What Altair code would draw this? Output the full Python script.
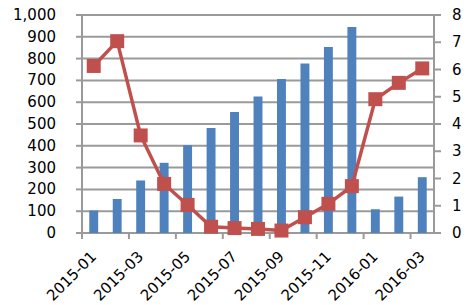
import altair as alt
import pandas as pd

months = ["2015-01", "2015-02", "2015-03", "2015-04", "2015-05", "2015-06", "2015-07",
          "2015-08", "2015-09", "2015-10", "2015-11", "2015-12", "2016-01", "2016-02", "2016-03"]
bar_values = [103, 156, 241, 322, 402, 482, 555, 626, 706, 778, 853, 945, 109, 167, 256]
line_values = [6.13, 7.04, 3.58, 1.80, 1.03, 0.23, 0.18, 0.15, 0.09, 0.58, 1.07, 1.72, 4.91, 5.51, 6.04]
tick_months = months[::2]
left_ticks = list(range(0, 1001, 100))
right_ticks = list(range(0, 9))

df = pd.DataFrame({"month": months, "bar": bar_values, "line": line_values})
xtick_df = pd.DataFrame({"month": tick_months})
lgrid_df = pd.DataFrame({"v": left_ticks})
rgrid_df = pd.DataFrame({"v": right_ticks})

FONT = "DejaVu Sans"
AX = "#9a9a9a"
SW = 2
W, H = 352, 218
N = len(months)
STEP = W / N
HALF = STEP / 2
PI, PO = 0.62, 0.31

xscale = alt.Scale(domain=months, paddingInner=PI, paddingOuter=PO)
lscale = alt.Scale(domain=[0, 1000])
rscale = alt.Scale(domain=[0, 8])


def xf(field, **kw):
    return alt.X(field, title=None, scale=xscale, axis=None, **kw)


def ly():
    return alt.Y("v:Q", title=None, scale=lscale, axis=None)


def ry():
    return alt.Y("v:Q", title=None, scale=rscale, axis=None)


first = f"'{months[0]}'"
mid = f"'{months[N // 2]}'"
last = f"'{months[-1]}'"

# horizontal gridlines: ticks centred on the middle category spanning the plot width
grid = alt.Chart(lgrid_df).transform_calculate(m=mid).mark_tick(
    color=AX, thickness=SW, size=W, orient="horizontal", opacity=1
).encode(x=xf("m:N"), y=ly())
# left tick marks and labels
lticks = alt.Chart(lgrid_df).transform_calculate(m=first).mark_tick(
    color=AX, thickness=SW, size=6, orient="horizontal", opacity=1, xOffset=-HALF - 3
).encode(x=xf("m:N"), y=ly())
llabels = alt.Chart(lgrid_df).transform_calculate(
    lab="format(datum.v, ',')"
).mark_text(font=FONT, fontSize=15, color="#000000", align="right", baseline="middle").encode(
    y=ly(), x=alt.value(-26), text="lab:N")
# axis lines (left and right)
lline = alt.Chart(xtick_df).transform_filter(f"datum.month == {first}").mark_rule(
    color=AX, strokeWidth=SW, xOffset=-HALF
).encode(x=xf("month:N"), y=alt.value(0), y2=alt.value(H))
rline = alt.Chart(df).transform_filter(f"datum.month == {last}").mark_rule(
    color=AX, strokeWidth=SW, xOffset=HALF
).encode(x=xf("month:N"), y=alt.value(0), y2=alt.value(H))
# x tick marks at category boundaries and rotated labels
xticks = alt.Chart(xtick_df).mark_rule(color=AX, strokeWidth=SW, xOffset=-PO * STEP).encode(
    x=xf("month:N", bandPosition=0), y=alt.value(H), y2=alt.value(H + 6))
xlabels = alt.Chart(xtick_df).mark_text(
    font=FONT, fontSize=15, color="#000000", align="right", baseline="middle", angle=315
).encode(x=xf("month:N"), y=alt.value(H + 21), text="month:N")

bars = alt.Chart(df).mark_bar(color="#4F81BD").encode(
    x=xf("month:N"), y=alt.Y("bar:Q", title=None, scale=lscale, axis=None))

left = alt.layer(grid, lticks, llabels, lline, rline, xticks, xlabels, bars)

# right axis ticks and labels
rticks = alt.Chart(rgrid_df).transform_calculate(m=last).mark_tick(
    color=AX, thickness=SW, size=7, orient="horizontal", opacity=1, xOffset=HALF + 3.5
).encode(x=xf("m:N"), y=ry())
rlabels = alt.Chart(rgrid_df).mark_text(
    font=FONT, fontSize=15, color="#000000", align="left", baseline="middle"
).encode(y=ry(), x=alt.value(W + 18), text="v:Q")

line = alt.Chart(df).mark_line(
    color="#C0504D", strokeWidth=3.5,
    point=alt.OverlayMarkDef(shape="square", size=196, filled=True, color="#C0504D", opacity=1),
).encode(x=xf("month:N"), y=alt.Y("line:Q", title=None, scale=rscale, axis=None))

right = alt.layer(rticks, rlabels, line)

chart = alt.layer(left, right).resolve_scale(y="independent").properties(
    width=W, height=H,
    background="white",
    autosize=alt.AutoSizeParams(type="none"),
    padding={"left": 82, "top": 15, "right": 37, "bottom": 72},
).configure_view(stroke=None)

chart.save("out.html", embed_options={"renderer": "svg", "actions": False})
